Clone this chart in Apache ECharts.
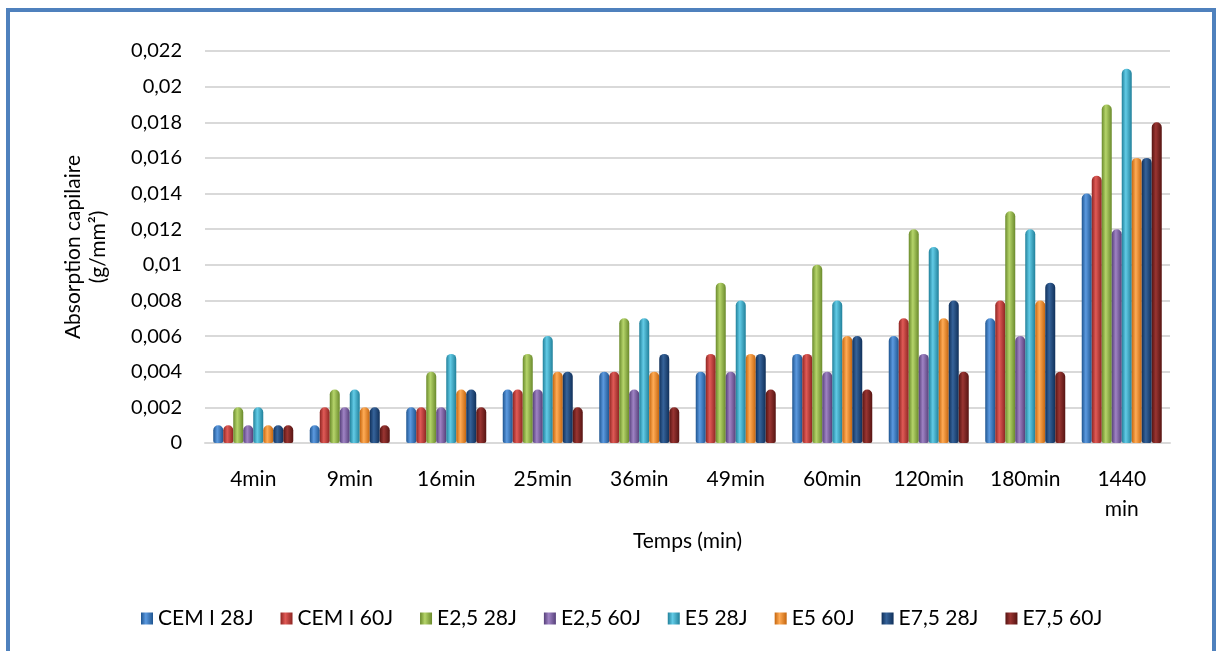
<!DOCTYPE html>
<html><head><meta charset="utf-8">
<script src="https://cdn.jsdelivr.net/npm/echarts@6/dist/echarts.min.js"></script>
<style>html,body{margin:0;padding:0;background:#fff}#c{width:1219px;height:651px}</style>
</head><body><div id="c"></div>
<script>
const categories = ['4min','9min','16min','25min','36min','49min','60min','120min','180min','1440\nmin'];
const seriesNames = ['CEM I 28J','CEM I 60J','E2,5 28J','E2,5 60J','E5 28J','E5 60J','E7,5 28J','E7,5 60J'];
const cem28  = [0.001,0.001,0.002,0.003,0.004,0.004,0.005,0.006,0.007,0.014];
const cem60  = [0.001,0.002,0.002,0.003,0.004,0.005,0.005,0.007,0.008,0.015];
const e25_28 = [0.002,0.003,0.004,0.005,0.007,0.009,0.010,0.012,0.013,0.019];
const e25_60 = [0.001,0.002,0.002,0.003,0.003,0.004,0.004,0.005,0.006,0.012];
const e5_28  = [0.002,0.003,0.005,0.006,0.007,0.008,0.008,0.011,0.012,0.021];
const e5_60  = [0.001,0.002,0.003,0.004,0.004,0.005,0.006,0.007,0.008,0.016];
const e75_28 = [0.001,0.002,0.003,0.004,0.005,0.005,0.006,0.008,0.009,0.016];
const e75_60 = [0.001,0.001,0.002,0.002,0.002,0.003,0.003,0.004,0.004,0.018];
const allValues = [cem28,cem60,e25_28,e25_60,e5_28,e5_60,e75_28,e75_60];
const colors = [
  ['#1f5590','#5c9ae0'],
  ['#8e2522','#e05a56'],
  ['#6a8a2c','#b5d46a'],
  ['#56407a','#9f83c4'],
  ['#21809a','#62cbe6'],
  ['#c5660f','#ffab55'],
  ['#10305a','#36639a'],
  ['#561412','#9a3532']
];
const fmt = v => { const r = Math.round(v*1000)/1000; return String(r).replace('.', ','); };
const grad = (c) => new echarts.graphic.LinearGradient(0,0,1,0,[
  {offset:0,color:c[0]},{offset:0.4,color:c[1]},{offset:1,color:c[0]}]);
const chart = echarts.init(document.getElementById('c'));
const F = 'Lato, "Open Sans", sans-serif';
chart.setOption({
  animation:false,
  graphic:[{type:'rect',shape:{x:8,y:10,width:1206,height:660},style:{fill:'none',stroke:'#4f81bd',lineWidth:4}}],
  grid:{left:205,right:49,top:51,bottom:208},
  legend:{left:136,top:603,itemWidth:12,itemHeight:12,itemGap:27,icon:'rect',
    textStyle:{fontFamily:F,fontSize:21,color:'#000',padding:[0,0,0,0]},
    data:seriesNames.map((n,i)=>({name:n,itemStyle:{color:grad(colors[i])}}))},
  xAxis:{type:'category',data:categories,
    axisLine:{lineStyle:{color:'#d9d9d9',width:2}},axisTick:{show:false},
    axisLabel:{fontFamily:F,fontSize:21,color:'#000',margin:21,lineHeight:30},
    name:'Temps (min)',nameLocation:'middle',nameGap:88,
    nameTextStyle:{fontFamily:F,fontSize:21,color:'#000'}},
  yAxis:{type:'value',min:0,max:0.022,interval:0.002,
    axisLine:{show:false},axisTick:{show:false},
    splitLine:{lineStyle:{color:'#d9d9d9',width:2}},
    axisLabel:{fontFamily:F,fontSize:20,color:'#000',margin:23,formatter:fmt},
    name:'Absorption capilaire\n(g/mm²)',nameLocation:'middle',nameGap:94,
    nameTextStyle:{fontFamily:F,fontSize:21,color:'#000',lineHeight:25}},
  series:seriesNames.map((n,i)=>({
    name:n,type:'bar',data:allValues[i],barWidth:10,barGap:'0%',
    itemStyle:{color:grad(colors[i]),borderRadius:[5,5,2,2]}
  }))
});
</script></body></html>
